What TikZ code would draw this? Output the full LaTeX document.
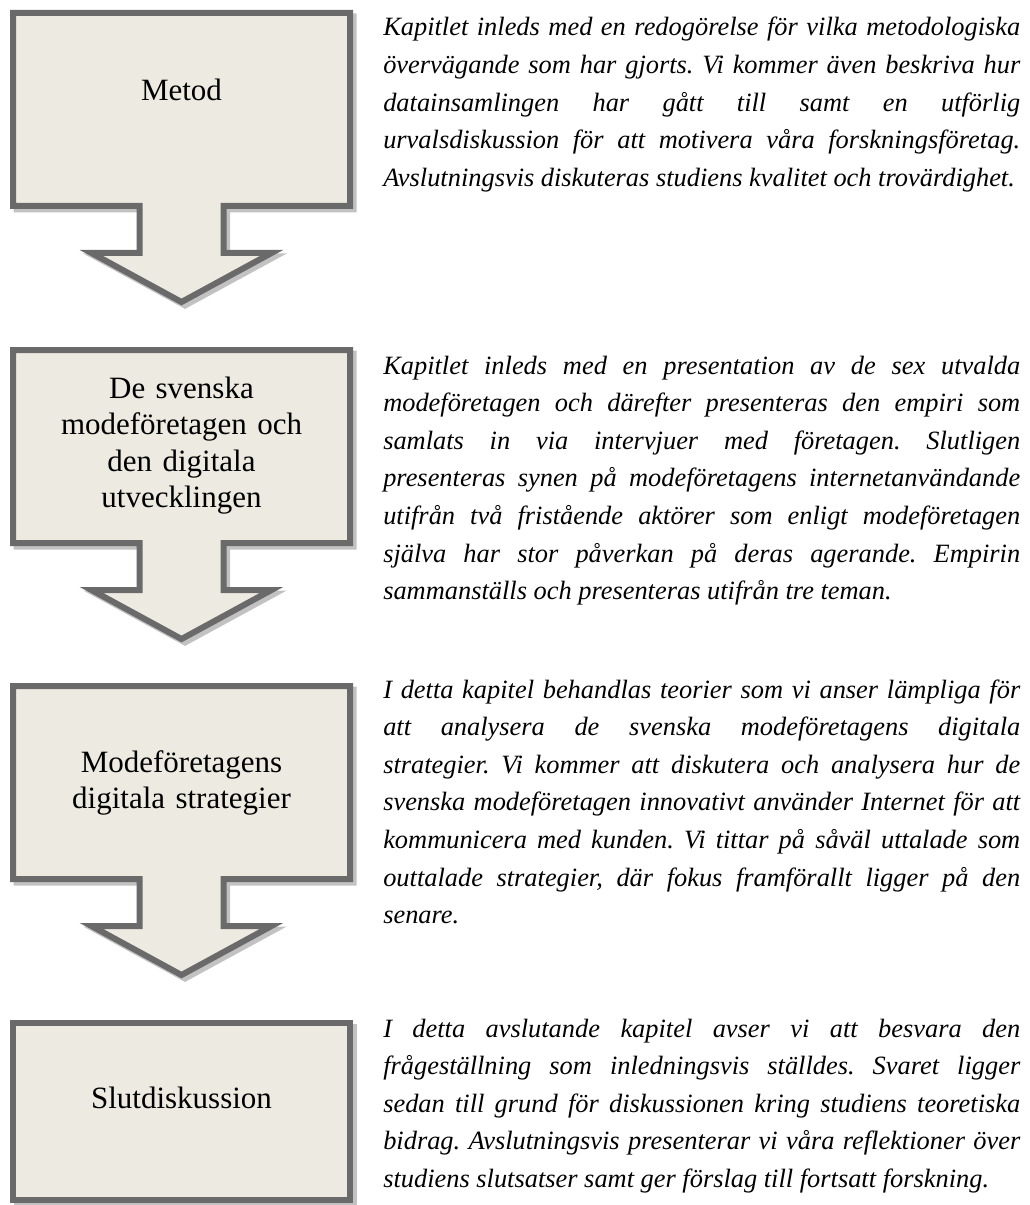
\documentclass[tikz,border=0pt]{standalone}
\usepackage{fontspec}
\setmainfont{Liberation Serif}

\definecolor{boxfill}{HTML}{EDEBE1}
\definecolor{boxline}{HTML}{6A6A6A}
\definecolor{boxshade}{HTML}{C2C2C2}

% width of the justified description paragraphs
\newlength\bodyw
\setlength\bodyw{477.75pt}
% paragraph settings for the descriptions: no hyphenation, single spaces
\newcommand\descsetup{\frenchspacing\hyphenpenalty10000\exhyphenpenalty10000\tolerance10000\relax}

\tikzset{
  shadowpath/.style={fill=boxshade, draw=boxshade, line width=4.5pt, line join=miter},
  boxpath/.style={fill=boxfill, draw=boxline, line width=4.5pt, line join=miter},
  % rectangle with a downward arrow hanging from its lower edge
  pics/callout/.style={code={
    \path[#1] (0,0) -- (337,0) -- (337,193) -- (210.5,193) -- (210.5,240)
      -- (258.5,240) -- (168.5,289) -- (78.5,240) -- (126.5,240)
      -- (126.5,193) -- (0,193) -- cycle;
  }},
  labeltext/.style={inner sep=0pt, anchor=base, text width=300pt, align=center,
    font=\fontsize{23.25}{27.4}\selectfont},
  desc/.style={inner sep=0pt, anchor=base west, text width=\bodyw, align=justify,
    font=\fontsize{19.8}{28.2}\selectfont\itshape\descsetup},
}

\begin{document}
\begin{tikzpicture}[x=0.75pt, y=-0.75pt]
\useasboundingbox (0,0) rectangle (1030,1205);
\clip (0,0) rectangle (1030,1205);

% the four chapter boxes
\pic[shift={(3.5,3.5)}] at (13,13) {callout=shadowpath};
\pic at (13,13) {callout=boxpath};
\pic[shift={(3.5,3.5)}] at (13,350) {callout=shadowpath};
\pic at (13,350) {callout=boxpath};
\pic[shift={(3.5,3.5)}] at (13,686) {callout=shadowpath};
\pic at (13,686) {callout=boxpath};
\path[shadowpath] (16.5,1026.5) rectangle (353.5,1203.5);
\path[boxpath] (13,1023) rectangle (350,1200);

% chapter titles
\node[labeltext] (metod) at (181.5,101) {Metod};
\node[labeltext] (empiri) at (181.5,398) {De svenska\\ modeföretagen och\\ den digitala\\ utvecklingen};
\node[labeltext] (analys) at (181.5,772) {Modeföretagens\\ digitala strategier};
\node[labeltext] (slut) at (181.5,1108) {Slutdiskussion};

% chapter descriptions
\node[desc] (d1) at (383,36) {%
  Kapitlet inleds med en redogörelse för vilka metodologiska\linebreak
  övervägande som har gjorts. Vi kommer även beskriva hur\linebreak
  datainsamlingen har gått till samt en utförlig\linebreak
  urvalsdiskussion för att motivera våra forskningsföretag.\linebreak
  Avslutningsvis diskuteras studiens kvalitet och trovärdighet.};

\node[desc] (d2) at (383,374) {%
  Kapitlet inleds med en presentation av de sex utvalda\linebreak
  modeföretagen och därefter presenteras den empiri som\linebreak
  samlats in via intervjuer med företagen. Slutligen\linebreak
  presenteras synen på modeföretagens internetanvändande\linebreak
  utifrån två fristående aktörer som enligt modeföretagen\linebreak
  själva har stor påverkan på deras agerande. Empirin\linebreak
  sammanställs och presenteras utifrån tre teman.};

\node[desc] (d3) at (383,698) {%
  I detta kapitel behandlas teorier som vi anser lämpliga för\linebreak
  att analysera de svenska modeföretagens digitala\linebreak
  strategier. Vi kommer att diskutera och analysera hur de\linebreak
  svenska modeföretagen innovativt använder Internet för att\linebreak
  kommunicera med kunden. Vi tittar på såväl uttalade som\linebreak
  outtalade strategier, där fokus framförallt ligger på den\linebreak
  senare.};

\node[desc] (d4) at (383,1037) {%
  I detta avslutande kapitel avser vi att besvara den\linebreak
  frågeställning som inledningsvis ställdes. Svaret ligger\linebreak
  sedan till grund för diskussionen kring studiens teoretiska\linebreak
  bidrag. Avslutningsvis presenterar vi våra reflektioner över\linebreak
  studiens slutsatser samt ger förslag till fortsatt forskning.};
\end{tikzpicture}
\end{document}
